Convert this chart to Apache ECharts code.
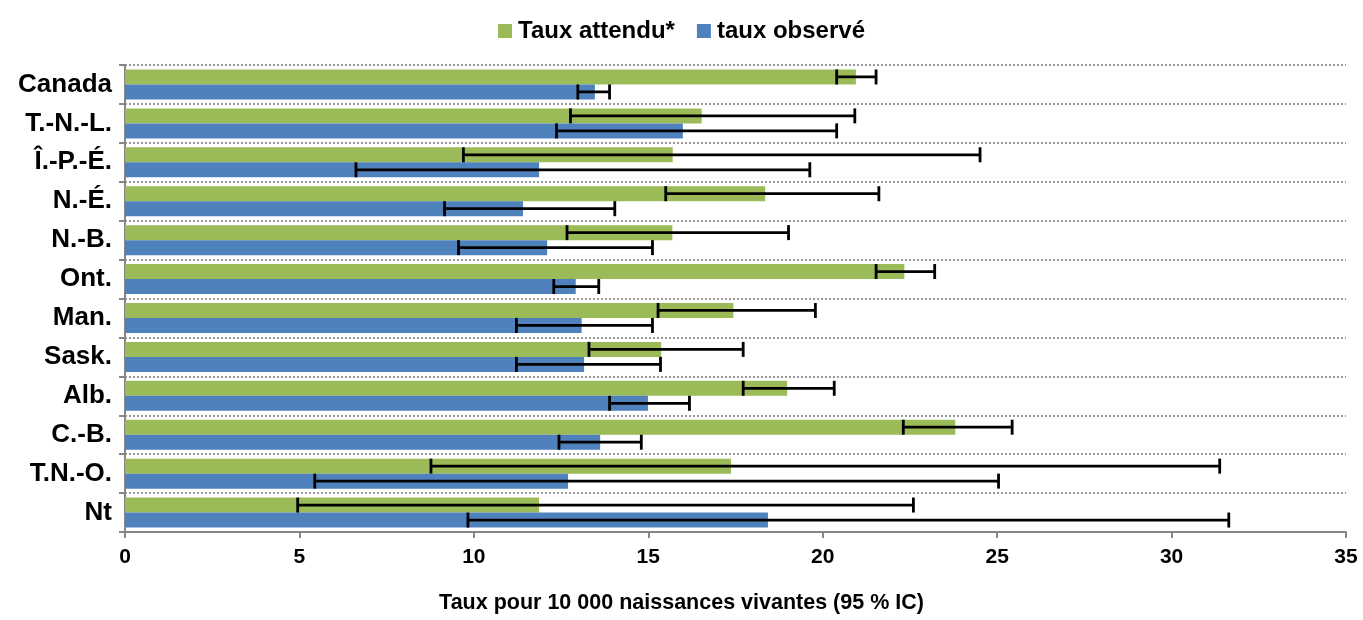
<!DOCTYPE html>
<html>
<head>
<meta charset="utf-8">
<script src="https://cdn.jsdelivr.net/npm/echarts@6/dist/echarts.min.js"></script>
<style>html,body{margin:0;padding:0;background:#fff}#c{width:1363px;height:620px}</style>
</head>
<body>
<div id="c"></div>
<script>
const categories = ['Canada','T.-N.-L.','Î.-P.-É.','N.-É.','N.-B.','Ont.','Man.','Sask.','Alb.','C.-B.','T.N.-O.','Nt'];
const expected     = [20.95,16.53,15.70,18.35,15.69,22.34,17.44,15.37,18.98,23.80,17.37,11.87];
const expectedLow  = [20.40,12.77, 9.70,15.50,12.67,21.53,15.28,13.30,17.72,22.31, 8.77, 4.95];
const expectedHigh = [21.53,20.92,24.51,21.61,19.02,23.21,19.79,17.72,20.33,25.43,31.38,22.60];
const observed     = [13.47,15.99,11.87,11.41,12.10,12.92,13.09,13.16,14.99,13.62,12.70,18.43];
const observedLow  = [12.98,12.37, 6.62, 9.16, 9.56,12.29,11.22,11.22,13.89,12.44, 5.44, 9.83];
const observedHigh = [13.89,20.40,19.63,14.04,15.12,13.58,15.12,15.35,16.18,14.80,25.04,31.64];
const xTicks = [0,5,10,15,20,25,30,35];

const FONT = '"Liberation Sans", Arial, sans-serif';
const BAR_W = 15;

function errData(lo, hi){ return lo.map((l,i)=>[l, hi[i], i]); }
function errRender(offset){
  return function(params, api){
    const lo = api.coord([api.value(0), api.value(2)]);
    const hi = api.coord([api.value(1), api.value(2)]);
    const y = lo[1] + offset;
    const cap = 7.5;
    const style = {stroke:'#000', lineWidth:2.8};
    return {type:'group', children:[
      {type:'line', shape:{x1:lo[0], y1:y, x2:hi[0], y2:y}, style},
      {type:'line', shape:{x1:lo[0], y1:y-cap, x2:lo[0], y2:y+cap}, style},
      {type:'line', shape:{x1:hi[0], y1:y-cap, x2:hi[0], y2:y+cap}, style}
    ]};
  };
}

const chart = echarts.init(document.getElementById('c'), null, {renderer:'canvas'});
chart.setOption({
  animation:false,
  backgroundColor:'#fff',
  title:{
    text:'Taux pour 10 000 naissances vivantes (95 % IC)',
    left:'center', bottom:1,
    textStyle:{fontFamily:FONT, fontWeight:'bold', fontSize:21.5, color:'#000'}
  },
  legend:{
    data:['Taux attendu*','taux observé'],
    top:14, left:'center', itemWidth:14, itemHeight:14, itemGap:22,
    icon:'rect',
    textStyle:{fontFamily:FONT, fontWeight:'bold', fontSize:24, color:'#000', padding:[0,0,0,1]}
  },
  grid:{left:125, right:17, top:65, bottom:88, containLabel:false},
  xAxis:{
    type:'value', min:0, max:35, interval:5,
    axisLine:{show:true, lineStyle:{color:'#868686', width:2}},
    axisTick:{show:true, length:6, lineStyle:{color:'#868686', width:2}},
    splitLine:{show:false},
    axisLabel:{fontFamily:FONT, fontWeight:'bold', fontSize:21, color:'#000', margin:15,
      formatter:v=>xTicks.includes(v)?String(v):''}
  },
  yAxis:{
    type:'category', data:categories, inverse:true,
    axisLine:{show:true, lineStyle:{color:'#868686', width:2}},
    axisTick:{show:true, length:6, lineStyle:{color:'#868686', width:2}},
    splitLine:{show:true, lineStyle:{color:'#999', type:[2,2], width:2}},
    axisLabel:{fontFamily:FONT, fontWeight:'bold', fontSize:26, color:'#000', margin:13}
  },
  series:[
    {name:'Taux attendu*', type:'bar', data:expected, barWidth:BAR_W, barGap:'0%',
      itemStyle:{color:'#9BBB59'}},
    {name:'taux observé', type:'bar', data:observed, barWidth:BAR_W, barGap:'0%',
      itemStyle:{color:'#4F81BD'}},
    {name:'errExp', type:'custom', renderItem:errRender(-BAR_W/2), data:errData(expectedLow, expectedHigh),
      encode:{x:[0,1], y:2}, z:10},
    {name:'errObs', type:'custom', renderItem:errRender(BAR_W/2), data:errData(observedLow, observedHigh),
      encode:{x:[0,1], y:2}, z:10}
  ]
});
</script>
</body>
</html>
